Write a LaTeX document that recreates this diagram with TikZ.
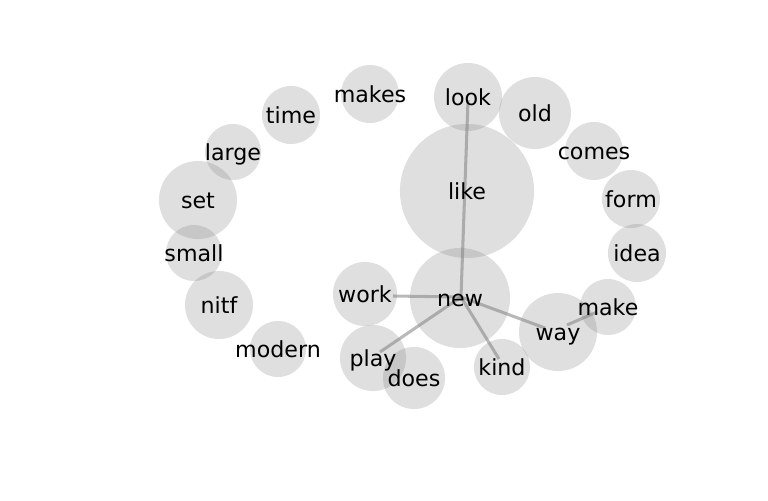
\documentclass[tikz,border=0pt]{standalone}
\usepackage{fontspec}
\setmainfont{DejaVu Sans}
\begin{document}
\begin{tikzpicture}[x=0.01in,y=-0.01in,
  bub/.style={circle,fill=gray,fill opacity=0.25,draw=none,inner sep=0pt,minimum size=#1*0.02in},
  lbl/.style={font=\fontsize{16pt}{19pt}\selectfont,text=black,inner sep=0pt,text height=14pt,text depth=2.4pt},
  edge/.style={draw=gray,draw opacity=0.55,line width=2.2pt}]
\useasboundingbox (0,0) rectangle (768,500);
% bubbles
\node[bub=67] (like) at (467,191) {};
\node[bub=50] (new) at (460,298) {};
\node[bub=34] (look) at (468,97) {};
\node[bub=36] (old) at (535,113) {};
\node[bub=29] (comes) at (594,151) {};
\node[bub=29] (form) at (631,199) {};
\node[bub=29] (idea) at (637,253) {};
\node[bub=28] (make) at (608,307) {};
\node[bub=39] (way) at (558,332) {};
\node[bub=28] (kind) at (502,367) {};
\node[bub=31] (does) at (414,378) {};
\node[bub=33] (play) at (373,358) {};
\node[bub=32] (work) at (365,294) {};
\node[bub=28] (modern) at (278,349) {};
\node[bub=34] (nitf) at (219,305) {};
\node[bub=28] (small) at (194,253) {};
\node[bub=39] (set) at (198,200) {};
\node[bub=28] (large) at (233,152) {};
\node[bub=29] (time) at (291,115) {};
\node[bub=29] (makes) at (370,94) {};
% edge ends
\coordinate (lookE) at (468,100);
\coordinate (newE) at (461,297);
\coordinate (workE) at (393,296);
\coordinate (playE) at (380,352);
\coordinate (kindE) at (499,359);
\coordinate (wayA) at (545,328);
\coordinate (wayB) at (567,325);
\coordinate (makeE) at (597,312);
\path[edge] (lookE) -- (newE);
\path[edge] (workE) -- (newE);
\path[edge] (playE) -- (newE);
\path[edge] (kindE) -- (newE);
\path[edge] (wayA) -- (newE);
\path[edge] (wayB) -- (makeE);
% labels
\foreach \n in {like,new,look,old,comes,form,idea,make,way,kind,does,play,work,modern,nitf,small,set,large,time,makes}
  \node[lbl] (t-\n) at (\n.center) {\n};
\end{tikzpicture}
\end{document}
